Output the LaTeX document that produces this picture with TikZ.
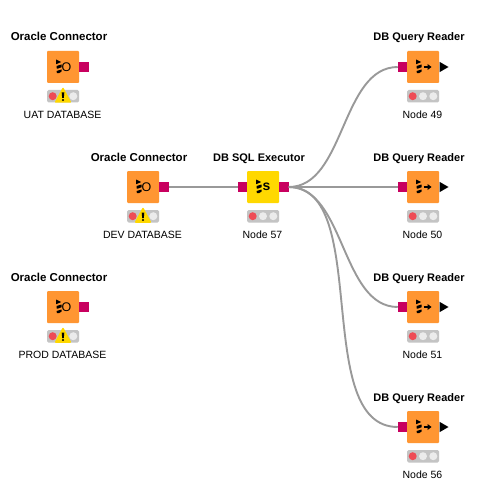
\documentclass[tikz,border=0pt]{standalone}
\usepackage{fontspec}
\setmainfont{Liberation Sans}
\definecolor{knorange}{HTML}{FF9632}
\definecolor{knyellow}{HTML}{FFD800}
\definecolor{knport}{HTML}{C8005F}
\definecolor{knwire}{HTML}{999999}
\definecolor{kngrey}{HTML}{C4C4C4}
\definecolor{knoff}{HTML}{EBEBEB}
\definecolor{knred}{HTML}{EE4B55}
\definecolor{knwarn}{HTML}{FFD800}
\tikzset{
  body/.style={rounded corners=1pt,minimum size=32pt,inner sep=0pt,outer sep=0pt},
  portbox/.style={fill=knport,minimum width=9.5pt,minimum height=10pt,inner sep=0pt,outer sep=0pt},
  titletext/.style={font=\fontsize{11}{13}\selectfont\bfseries,text=black,inner sep=0pt,anchor=base},
  labeltext/.style={font=\fontsize{10.5}{13}\selectfont,text=black,inner sep=0pt,anchor=base},
  icontext/.style={font=\fontsize{12.5}{13}\selectfont,text=black,inner sep=0pt},
  wire/.style={draw=knwire,line width=1.9pt},
}
% common part: name, x, y, colour, title, title size, label
\newcommand{\knbody}[7]{%
  \node[body,fill=#4] (#1) at (#2,#3) {};
  \node[titletext] (#1title) at (#2-4,#3-26) {\fontsize{#6}{13}\selectfont #5};
  \node[labeltext] (#1label) at (#2-0.5,#3+51) {#7};
  \fill[kngrey,rounded corners=1.5pt] (#2-16,#3+23) rectangle (#2+16,#3+35.5);
  \fill[knred] (#2-10.3,#3+29.2) circle (4);
  \fill[knoff] (#2,#3+29.2) circle (4);
  \fill[knoff] (#2+10.3,#3+29.2) circle (4);
  \fill[black] (#2-6.8,#3-7.5) -- (#2-1.8,#3-5) -- (#2-6.8,#3-2.8) -- cycle;
  \fill[black] (#2-6.5,#3-1) -- (#2-1.5,#3-2.5) -- (#2-1.5,#3+0.3) -- (#2-5.5,#3+1.7) -- (#2-6.5,#3+1.3) -- cycle;
  \fill[black] (#2-6.5,#3+4) -- (#2-1.5,#3+2.5) -- (#2-1.5,#3+4.5) -- (#2-4,#3+6.2) -- (#2-6,#3+6.2) -- cycle;
}
\newcommand{\knwarning}[2]{%
  \fill[knwarn,draw=knwarn,line width=1.5pt,line join=round] (#1,#2+21.5) -- (#1+7.3,#2+35) -- (#1-7.3,#2+35) -- cycle;
  \fill[black] (#1-1.3,#2+25.5) -- (#1+1.3,#2+25.5) -- (#1+0.8,#2+31) -- (#1-0.8,#2+31) -- cycle;
  \fill[black] (#1,#2+33) circle (1.2);
}
\newcommand{\knconn}[4]{%
  \knbody{#1}{#2}{#3}{knorange}{Oracle Connector}{11.5}{#4}
  \node[icontext] (#1icon) at (#2+3.5,#3) {O};
  \knwarning{#2}{#3}
  \node[portbox] (#1out) at (#2+21,#3) {};
}
\newcommand{\knreader}[4]{%
  \knbody{#1}{#2}{#3}{knorange}{DB Query Reader}{11}{#4}
  \draw[black,line width=1.3pt] (#2+0.5,#3) -- (#2+6,#3);
  \fill[black] (#2+4.5,#3-3) -- (#2+8.5,#3) -- (#2+4.5,#3+3) -- cycle;
  \node[portbox] (#1in) at (#2-20.5,#3) {};
  \fill[black] (#2+16.5,#3-5.2) -- (#2+25.5,#3) -- (#2+16.5,#3+5.2) -- cycle;
}
\begin{document}
\begin{tikzpicture}[x=1pt,y=-1pt]
\useasboundingbox (0,0) rectangle (487,500);
\fill[white] (0,0) rectangle (487,500);
% nodes first, so that wires can be drawn between their names
\knconn{uat}{63}{67}{UAT DATABASE}
\knconn{dev}{143}{187}{DEV DATABASE}
\knconn{prod}{63}{307}{PROD DATABASE}
\knbody{sql}{263}{187}{knyellow}{DB SQL Executor}{11}{Node 57}
\node[font=\fontsize{14}{14}\selectfont\bfseries,inner sep=0pt] (sqlicon) at (266.5,187) {s};
\node[portbox] (sqlin) at (242.5,187) {};
\node[portbox] (sqlout) at (284,187) {};
\knreader{qa}{423}{67}{Node 49}
\knreader{qb}{423}{187}{Node 50}
\knreader{qc}{423}{307}{Node 51}
\knreader{qd}{423}{427}{Node 56}
\draw[wire] (devout.east) -- (sqlin.west);
\draw[wire] (sqlout.east) .. controls (345,187) and (341,67) .. (qain.west);
\draw[wire] (sqlout.east) -- (qbin.west);
\draw[wire] (sqlout.east) .. controls (345,187) and (341,307) .. (qcin.west);
\draw[wire] (sqlout.east) .. controls (372,187) and (311,427) .. (qdin.west);
\end{tikzpicture}
\end{document}
